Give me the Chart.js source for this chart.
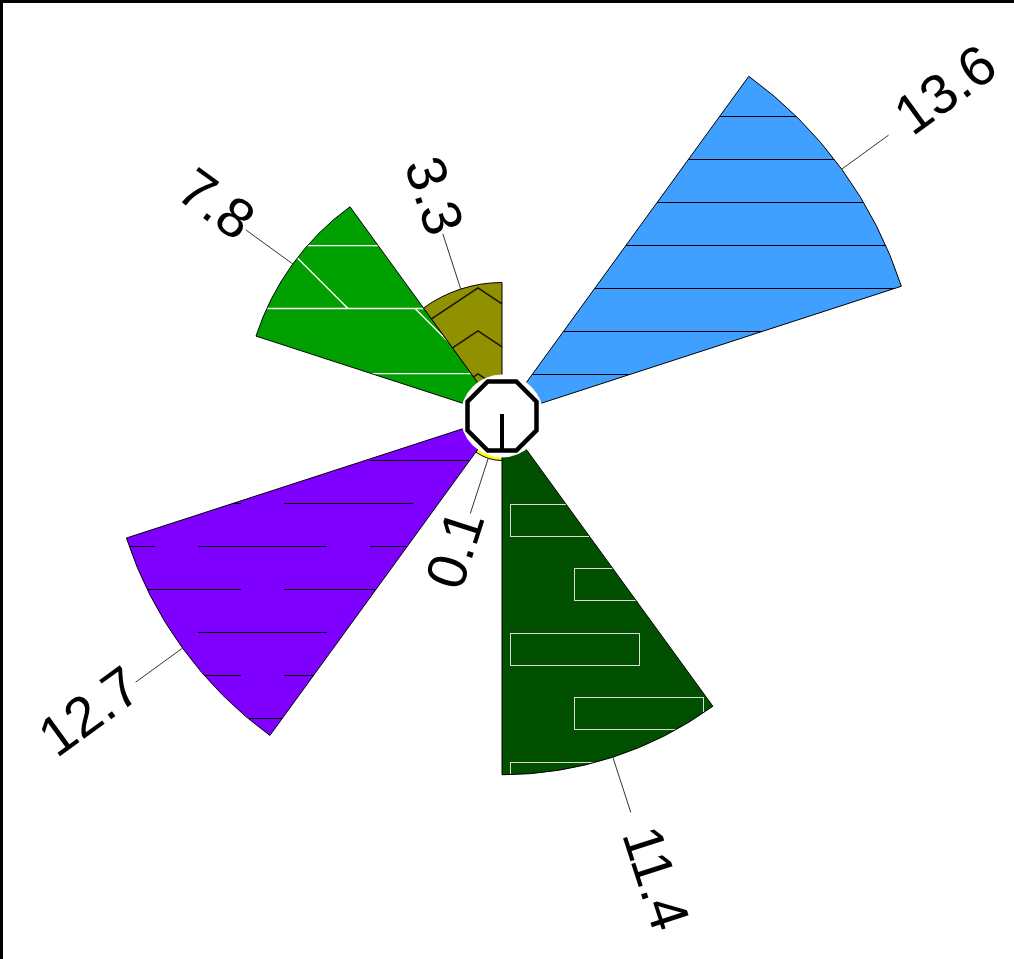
<!DOCTYPE html>
<html>
<head>
<meta charset="utf-8">
<script src="https://cdn.jsdelivr.net/npm/chart.js@4.4.1/dist/chart.umd.min.js"></script>
<style>
  html, body { margin: 0; padding: 0; background: #fff; }
  #wrap { position: relative; width: 1014px; height: 959px; overflow: hidden; }
  #wrap::before { content: ''; position: absolute; left: 0; top: 0; right: 0; height: 3px; background: #000; z-index: 2; }
  #wrap::after { content: ''; position: absolute; left: 0; top: 0; bottom: 0; width: 3px; background: #000; z-index: 2; }
  canvas { position: absolute; left: 0; top: 0; }
</style>
</head>
<body>
<div id="wrap"><canvas id="rose" width="1014" height="959"></canvas></div>
<script>
// ten 36-degree sectors, clockwise from the top; empty sectors are null
const sectors = ['S1', 'S2', 'S3', 'S4', 'S5', 'S6', 'S7', 'S8', 'S9', 'S10'];
const values = [null, 13.6, null, null, 11.4, 0.1, 12.7, null, 7.8, 3.3];
const baseColors = [null, '#40a0ff', null, null, '#005000', '#ffff00', '#8000ff', null, '#00a000', '#909000'];

const LEADER = 58;
const GAP_OUT = 18;
const GAP_IN = 0;
const LABEL_FONT = '56px "Liberation Sans", Arial, sans-serif';

function makeTile(w, h, base, draw) {
  const c = document.createElement('canvas');
  c.width = w;
  c.height = h;
  const g = c.getContext('2d');
  g.fillStyle = base;
  g.fillRect(0, 0, w, h);
  draw(g);
  return c;
}

function makePattern(tile, ox, oy) {
  const p = document.createElement('canvas').getContext('2d').createPattern(tile, 'repeat');
  p.setTransform(new DOMMatrix().translate(ox, oy));
  return p;
}

function line(g, pts, color, width) {
  g.strokeStyle = color;
  g.lineWidth = width;
  g.beginPath();
  g.moveTo(pts[0][0], pts[0][1]);
  for (let i = 1; i < pts.length; i++) g.lineTo(pts[i][0], pts[i][1]);
  g.stroke();
}

// fill patterns, one per coloured sector
const fills = {
  // plain horizontal rules
  1: makePattern(makeTile(8, 43, baseColors[1], g => {
    line(g, [[0, 0.5], [8, 0.5]], '#000', 1);
  }), 0, 116),
  // staggered open rectangles
  4: makePattern(makeTile(256, 129, baseColors[4], g => {
    g.strokeStyle = '#dcdcdc';
    g.lineWidth = 1;
    g.strokeRect(8.5, 0.5, 129, 32);
    g.strokeRect(72.5, 64.5, 129, 32);
  }), 502, 504),
  5: baseColors[5],
  // dashed horizontal rules, alternate rows shifted half a period
  6: makePattern(makeTile(172, 86, baseColors[6], g => {
    line(g, [[0, 0.5], [129, 0.5]], '#000', 1);
    line(g, [[86, 43.5], [172, 43.5]], '#000', 1);
    line(g, [[0, 43.5], [43, 43.5]], '#000', 1);
  }), 198, 546),
  // horizontal rules with a diagonal step in every other band
  8: makePattern(makeTile(260, 128, baseColors[8], g => {
    line(g, [[0, 0.5], [260, 0.5]], '#fff', 1.4);
    line(g, [[0, 63.5], [260, 63.5]], '#fff', 1.4);
    line(g, [[0, 0.5], [63, 63.5]], '#fff', 1.4);
    line(g, [[130, 63.5], [194.5, 128]], '#fff', 1.4);
  }), 285, 245),
  // stacked chevrons
  9: makePattern(makeTile(120, 43, baseColors[9], g => {
    for (const dy of [-43, 0, 43]) {
      line(g, [[0, 42 + dy], [60, 2 + dy], [120, 42 + dy]], '#141400', 1.5);
    }
  }), 418, 286)
};

const backgrounds = values.map((v, i) => (v === null ? 'rgba(0,0,0,0)' : fills[i]));
const borders = values.map(v => (v === null ? 'rgba(0,0,0,0)' : '#000'));

// white badge in the middle plus the radial value labels
const roseDecor = {
  id: 'roseDecor',
  afterDatasetsDraw(chart) {
    const ctx = chart.ctx;
    const scale = chart.scales.r;
    const cx = scale.xCenter;
    const cy = scale.yCenter;

    ctx.save();
    ctx.fillStyle = '#fff';
    ctx.beginPath();
    ctx.arc(cx, cy, 41.5, 0, Math.PI * 2);
    ctx.fill();

    const apothem = 34.5;
    const R = apothem / Math.cos(Math.PI / 8);
    ctx.beginPath();
    for (let k = 0; k < 8; k++) {
      const a = Math.PI / 8 + k * Math.PI / 4;
      const px = cx + R * Math.cos(a);
      const py = cy + R * Math.sin(a);
      if (k === 0) ctx.moveTo(px, py); else ctx.lineTo(px, py);
    }
    ctx.closePath();
    ctx.fill();
    ctx.lineWidth = 4.5;
    ctx.strokeStyle = '#000';
    ctx.lineJoin = 'miter';
    ctx.stroke();
    ctx.beginPath();
    ctx.moveTo(cx, cy - 2);
    ctx.lineTo(cx, cy + apothem);
    ctx.lineWidth = 4;
    ctx.stroke();
    ctx.restore();

    const meta = chart.getDatasetMeta(0);
    meta.data.forEach((arc, i) => {
      const v = values[i];
      if (v === null) return;
      const p = arc.getProps(['startAngle', 'endAngle', 'outerRadius'], true);
      const mid = (p.startAngle + p.endAngle) / 2;
      const c = Math.cos(mid);
      const s = Math.sin(mid);
      const r1 = p.outerRadius;
      const r2 = r1 + LEADER;

      ctx.save();
      ctx.strokeStyle = '#333';
      ctx.lineWidth = 1;
      ctx.beginPath();
      ctx.moveTo(cx + c * r1, cy + s * r1);
      ctx.lineTo(cx + c * r2, cy + s * r2);
      ctx.stroke();

      const flip = c < 0;
      const rt = r2 + (flip ? GAP_IN : GAP_OUT);
      ctx.translate(cx + c * rt, cy + s * rt);
      ctx.rotate(flip ? mid + Math.PI : mid);
      ctx.font = LABEL_FONT;
      ctx.fillStyle = '#000';
      ctx.textAlign = flip ? 'right' : 'left';
      ctx.textBaseline = 'middle';
      ctx.fillText(v.toFixed(1), 0, 0);
      ctx.restore();
    });
  }
};

new Chart(document.getElementById('rose'), {
  type: 'polarArea',
  data: {
    labels: sectors,
    datasets: [{
      data: values,
      backgroundColor: backgrounds,
      borderColor: borders,
      borderWidth: 1,
      clip: false
    }]
  },
  options: {
    responsive: false,
    animation: false,
    events: [],
    layout: { padding: { left: 86, right: 96, top: 0, bottom: 127 } },
    plugins: {
      legend: { display: false },
      tooltip: { enabled: false }
    },
    scales: {
      r: {
        min: -1.5,
        max: 13.459,
        startAngle: 0,
        grid: { display: false },
        angleLines: { display: false },
        ticks: { display: false },
        pointLabels: { display: false }
      }
    }
  },
  plugins: [roseDecor]
});
</script>
</body>
</html>
